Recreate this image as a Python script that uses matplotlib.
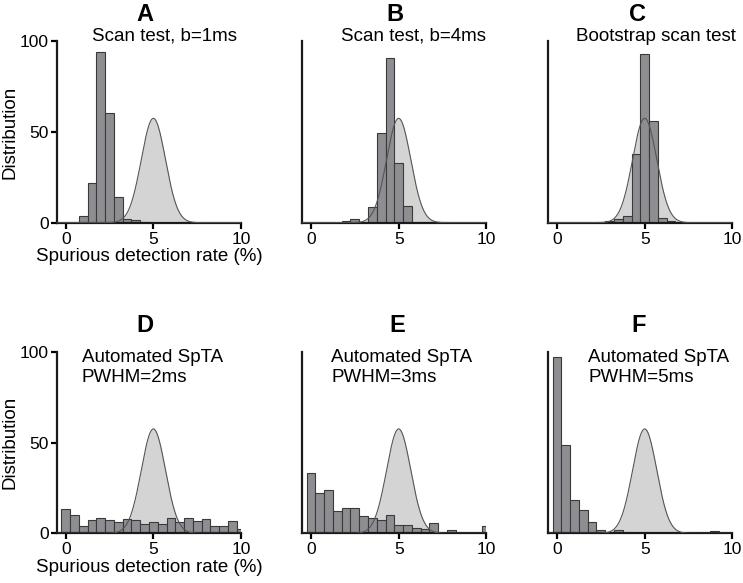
import numpy as np
import matplotlib.pyplot as plt

plt.rcParams['font.family'] = ['Liberation Sans', 'DejaVu Sans']

# histogram bin centres (spurious detection rate, %)
bins = np.arange(0, 10.5, 0.5)

hist_a = [0, 0, 3.5, 22, 94, 60.7, 14.3, 2, 1.3, 0.5, 0, 0, 0, 0, 0, 0, 0, 0, 0, 0, 0]
hist_b = [0, 0, 0, 0, 1.1, 1.8, 0.5, 8.6, 49.5, 91, 33, 9.4, 0, 0.5, 0.3, 0.2, 0, 0, 0, 0, 0]
hist_c = [0, 0, 0, 0, 0, 0.3, 1.1, 1.8, 3.6, 37.8, 93, 56, 2.4, 1.1, 0, 0, 0, 0, 0, 0, 0]
hist_d = [13.3, 9.9, 4, 7.2, 8.7, 7.2, 6.3, 7.7, 7.2, 5, 6.4, 5, 8.5, 6.4, 8.7, 6.6, 7.9, 4, 4, 6.6, 2.4]
hist_e = [33, 22, 23.6, 12.1, 14.1, 14.1, 9.4, 8.6, 7.5, 9.9, 4.8, 4.8, 3.1, 2.6, 5.7, 0.3, 1.7, 0.3, 0.3, 0.3, 3.9]
hist_f = [97, 48.8, 18.2, 13, 6.4, 1.8, 0.7, 1.7, 0, 0.4, 0, 0, 0.4, 0, 0.3, 0.2, 0, 0, 1.1, 0, 0]

letters = ['A', 'B', 'C', 'D', 'E', 'F']
subtitles = ['Scan test, b=1ms', 'Scan test, b=4ms', 'Bootstrap scan test',
             'Automated SpTA\nPWHM=2ms', 'Automated SpTA\nPWHM=3ms', 'Automated SpTA\nPWHM=5ms']
hists = [hist_a, hist_b, hist_c, hist_d, hist_e, hist_f]

# expected (binomial) distribution around nominal 5%
ref_mean = 5.0
ref_sd = 0.69
ref_peak = 57.5

fig = plt.figure(figsize=(7.43, 5.83), dpi=100)

lefts = [57 / 743, 302.3 / 743, 548.3 / 743]
bottoms = [(583 - 222.7) / 583, (583 - 533.3) / 583]
w = 184 / 743
h = 181.5 / 583

sub_pos = [(9.77, 102.7, 'right'), (10.0, 102.7, 'right'), (10.19, 102.7, 'right'),
           (0.9, 91.5, 'left'), (1.14, 91.5, 'left'), (1.77, 91.5, 'left')]
letter_x = [4.5, 4.8, 4.57, 4.5, 4.9, 4.65]

xs = np.linspace(-0.5, 10, 400)
ys = ref_peak * np.exp(-(xs - ref_mean) ** 2 / (2 * ref_sd ** 2))

for i in range(6):
    row, col = divmod(i, 3)
    ax = fig.add_axes([lefts[col], bottoms[row], w, h])
    ax.fill_between(xs, 0, ys, color='#d4d4d4', zorder=1, lw=0)
    ax.bar(bins, hists[i], width=0.5, color='#8d8d92', edgecolor='#3a3a3a',
           linewidth=0.8, zorder=2)
    ax.plot(xs, ys, color='#555555', lw=0.8, zorder=3)

    ax.set_xlim(-0.5, 10)
    ax.set_ylim(0, 100)
    for s in ['top', 'right']:
        ax.spines[s].set_visible(False)
    for s in ['left', 'bottom']:
        ax.spines[s].set_linewidth(1.6)
        ax.spines[s].set_color('#1a1a1a')
    ax.set_xticks([0, 5, 10])
    ax.tick_params(axis='x', length=4.5, width=1.6, labelsize=12.5, pad=2)
    if col == 0:
        ax.set_yticks([0, 50, 100])
        ax.tick_params(axis='y', length=4, width=1.6, labelsize=12.5, pad=2)
        ax.set_ylabel('Distribution', fontsize=13.5, labelpad=1)
        ax.set_xlabel('Spurious detection rate (%)', fontsize=13.5, labelpad=1)
    else:
        ax.set_yticks([])

    sx, sy, ha = sub_pos[i]
    ax.text(sx, sy, subtitles[i], ha=ha, va='center', fontsize=13.5,
            linespacing=1.25, clip_on=False)
    ax.text(letter_x[i], 114.5, letters[i], ha='center', va='center',
            fontsize=17, fontweight='bold', clip_on=False)

fig.savefig('out.png', dpi=100)
